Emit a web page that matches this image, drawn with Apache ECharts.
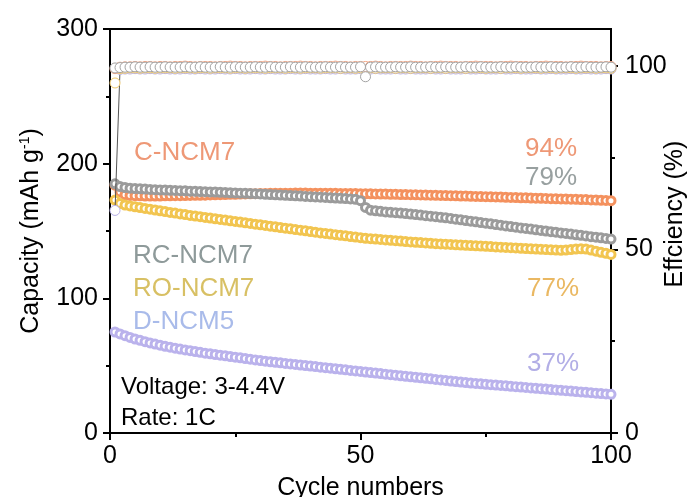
<!DOCTYPE html>
<html>
<head>
<meta charset="utf-8">
<script src="https://cdn.jsdelivr.net/npm/echarts@6/dist/echarts.min.js"></script>
<style>
html,body{margin:0;padding:0;background:#fff;}
#chart{width:692px;height:497px;}
</style>
</head>
<body>
<div id="chart"></div>
<script>
// Capacity (mAh g-1) per cycle 1..100
var capC_NCM7 = [184,179,177,176.4,176.2,176.1,176,176,176,176,
176.1,176.1,176.2,176.2,176.3,176.4,176.5,176.5,176.6,176.8,
176.9,177,177.1,177.2,177.3,177.4,177.5,177.6,177.7,177.8,
177.9,178,178,178.1,178.1,178.1,178.2,178.2,178.2,178.1,
178.1,178.1,178,178,178,177.9,177.9,177.8,177.8,177.7,
177.6,177.6,177.5,177.4,177.4,177.3,177.2,177.1,177.1,177,
176.9,176.8,176.7,176.6,176.5,176.4,176.3,176.2,176.1,176,
175.9,175.8,175.7,175.6,175.5,175.4,175.3,175.2,175,174.9,
174.8,174.7,174.6,174.5,174.4,174.3,174.2,174,173.9,173.8,
173.7,173.6,173.5,173.4,173.3,173.1,173,172.8,172.7,172.5];

var capRC_NCM7 = [185,183,182.3,181.8,181.5,181.3,181.1,180.9,180.7,180.5,
180.4,180.2,180.1,179.9,179.8,179.6,179.5,179.3,179.2,179,
178.9,178.7,178.6,178.4,178.3,178.1,178,177.8,177.7,177.5,
177.3,177.1,176.9,176.7,176.5,176.3,176.1,175.9,175.7,175.5,
175.3,175.1,174.9,174.7,174.5,174.3,174.1,173.8,173.5,172.5,
167.5,165.5,165,164.6,164.2,163.9,163.6,163.3,163,162.6,
162.2,161.8,161.4,161,160.6,160.2,159.8,159.3,158.8,158.3,
157.8,157.3,156.8,156.3,155.8,155.3,154.8,154.3,153.8,153.3,
152.8,152.3,151.9,151.4,150.9,150.4,150,149.5,149.1,148.6,
148.2,147.7,147.2,146.8,146.3,145.8,145.4,144.9,144.5,144];

var capRO_NCM7 = [173,170.5,169.3,168.6,168,167.4,166.8,166.2,165.6,165,
164.4,163.8,163.3,162.7,162.2,161.6,161.1,160.6,160.1,159.6,
159.1,158.6,158.1,157.6,157.1,156.6,156.1,155.6,155.1,154.6,
154.1,153.6,153.1,152.6,152.1,151.6,151.1,150.6,150.1,149.6,
149.1,148.6,148.2,147.7,147.3,146.8,146.4,145.9,145.5,145,
144.6,144.3,144,143.7,143.4,143.1,142.8,142.5,142.2,141.9,
141.6,141.4,141.1,140.9,140.6,140.4,140.2,140,139.8,139.6,
139.4,139.2,139,138.8,138.6,138.4,138.2,138,137.8,137.6,
137.4,137.2,137,136.8,136.6,136.4,136.2,136,135.8,135.7,
135.8,136.2,136.6,136.8,136.6,135.8,135,134.2,133.4,132.6];

var capD_NCM5 = [75,73.6,72.3,71,69.8,68.8,67.8,66.9,66,65.2,
64.4,63.7,63,62.3,61.7,61.1,60.5,59.9,59.3,58.8,
58.3,57.8,57.3,56.8,56.3,55.8,55.3,54.8,54.3,53.8,
53.3,52.9,52.5,52.1,51.7,51.3,50.9,50.5,50.1,49.7,
49.3,48.9,48.5,48.1,47.7,47.3,46.9,46.5,46.1,45.7,
45.3,44.9,44.5,44.1,43.7,43.3,42.9,42.5,42.1,41.7,
41.4,41,40.6,40.2,39.8,39.4,39,38.6,38.2,37.8,
37.5,37.1,36.8,36.5,36.2,35.9,35.6,35.3,35,34.7,
34.4,34.1,33.8,33.5,33.2,32.9,32.6,32.3,32,31.7,
31.4,31.1,30.8,30.5,30.2,29.9,29.6,29.3,29,28.7];

// Coulombic efficiency (%) per cycle 1..100
var effC_NCM7 = [99.2,99.6,99.7,99.7,99.8,99.7,99.8,99.8,99.7,99.8,
99.8,99.7,99.8,99.8,99.9,99.8,99.7,99.8,99.8,99.8,
99.7,99.8,99.8,99.9,99.8,99.8,99.7,99.8,99.8,99.8,
99.9,99.8,99.8,99.7,99.8,99.8,99.8,99.9,99.8,99.8,
99.7,99.8,99.8,99.8,99.9,99.8,99.8,99.7,99.8,99.8,
99.8,99.8,99.9,99.8,99.7,99.8,99.8,99.8,99.8,99.9,
99.8,99.8,99.7,99.8,99.8,99.9,99.8,99.8,99.8,99.7,
99.8,99.8,99.9,99.8,99.8,99.8,99.7,99.8,99.8,99.9,
99.8,99.8,99.8,99.7,99.8,99.8,99.9,99.8,99.8,99.8,
99.7,99.8,99.8,99.9,99.8,99.8,99.8,99.7,99.8,99.8];

var effRC_NCM7 = [99.4,99.5,99.6,99.6,99.7,99.6,99.6,99.7,99.6,99.6,
99.7,99.6,99.6,99.6,99.7,99.6,99.6,99.7,99.6,99.6,
99.6,99.7,99.6,99.6,99.7,99.6,99.6,99.6,99.7,99.6,
99.6,99.7,99.6,99.6,99.6,99.7,99.6,99.6,99.7,99.6,
99.6,99.6,99.7,99.6,99.6,99.7,99.6,99.6,99.6,99.7,
97.0,99.6,99.7,99.6,99.6,99.6,99.7,99.6,99.6,99.7,
99.6,99.6,99.6,99.7,99.6,99.6,99.7,99.6,99.6,99.6,
99.7,99.6,99.6,99.7,99.6,99.6,99.6,99.7,99.6,99.6,
99.7,99.6,99.6,99.6,99.7,99.6,99.6,99.7,99.6,99.6,
99.6,99.7,99.6,99.6,99.7,99.6,99.6,99.6,99.7,99.6];

var effRO_NCM7 = [95.3,99.2,99.3,99.4,99.4,99.3,99.4,99.4,99.3,99.4,
99.4,99.4,99.3,99.4,99.4,99.4,99.3,99.4,99.4,99.3,
99.4,99.4,99.4,99.3,99.4,99.4,99.3,99.4,99.4,99.4,
99.3,99.4,99.4,99.4,99.3,99.4,99.4,99.3,99.4,99.4,
99.4,99.3,99.4,99.4,99.4,99.3,99.4,99.4,99.3,99.4,
99.4,99.4,99.3,99.4,99.4,99.4,99.3,99.4,99.4,99.3,
99.4,99.4,99.4,99.3,99.4,99.4,99.3,99.4,99.4,99.4,
99.3,99.4,99.4,99.4,99.3,99.4,99.4,99.3,99.4,99.4,
99.4,99.3,99.4,99.4,99.4,99.3,99.4,99.4,99.3,99.4,
99.4,99.4,99.3,99.4,99.4,99.4,99.3,99.4,99.4,99.3];

var effD_NCM5 = [60.6,99.0,99.1,99.1,99.2,99.1,99.1,99.2,99.1,99.1,
99.2,99.1,99.1,99.1,99.2,99.1,99.1,99.2,99.1,99.1,
99.1,99.2,99.1,99.1,99.2,99.1,99.1,99.1,99.2,99.1,
99.1,99.2,99.1,99.1,99.1,99.2,99.1,99.1,99.2,99.1,
99.1,99.1,99.2,99.1,99.1,99.2,99.1,99.1,99.1,99.2,
99.1,99.1,99.2,99.1,99.1,99.1,99.2,99.1,99.1,99.2,
99.1,99.1,99.1,99.2,99.1,99.1,99.2,99.1,99.1,99.1,
99.2,99.1,99.1,99.2,99.1,99.1,99.1,99.2,99.1,99.1,
99.2,99.1,99.1,99.1,99.2,99.1,99.1,99.2,99.1,99.1,
99.1,99.2,99.1,99.1,99.2,99.1,99.1,99.1,99.2,99.1];

var seriesNames = ['C-NCM7','RC-NCM7','RO-NCM7','D-NCM5'];
var retentionLabels = ['94%','79%','77%','37%'];
var xTickLabels = [0,50,100];
var leftTickLabels = [0,100,200,300];
var rightTickLabels = [0,50,100];

var FONT = '"Liberation Sans", Arial, sans-serif';

function pairs(arr){
  var out = [];
  for (var i = 0; i < arr.length; i++) out.push([i + 1, arr[i]]);
  return out;
}

function capSeries(name, arr, color, z){
  return {
    name: name, type: 'line', xAxisIndex: 0, yAxisIndex: 0,
    data: pairs(arr), z: z,
    symbol: 'circle', symbolSize: 8,
    itemStyle: {color: '#ffffff', borderColor: color, borderWidth: 3},
    lineStyle: {color: color, width: 1},
    emphasis: {disabled: true}, animation: false
  };
}
function effSeries(name, arr, color, z, lineColor, lineWidth){
  return {
    name: name + ' CE', type: 'line', xAxisIndex: 0, yAxisIndex: 1,
    data: pairs(arr), z: z,
    symbol: 'circle', symbolSize: 10,
    itemStyle: {color: '#ffffff', borderColor: color, borderWidth: 1},
    lineStyle: {color: lineColor, width: lineWidth},
    emphasis: {disabled: true}, animation: false
  };
}

var chart = echarts.init(document.getElementById('chart'), null, {renderer: 'canvas'});

function txt(s, x, y, color, size){
  return {type: 'text', z: 100, style: {text: s, x: x, y: y, fill: color,
    font: (size || 26) + 'px ' + FONT, verticalAlign: 'middle', textVerticalAlign: 'middle'}};
}

chart.setOption({
  animation: false,
  backgroundColor: '#ffffff',
  grid: {left: 110, right: 81, top: 29, bottom: 64, containLabel: false, outerBoundsMode: 'none',
    show: true, borderColor: '#000', borderWidth: 2, backgroundColor: 'transparent'},
  xAxis: {
    type: 'value', min: 0, max: 100, interval: 50,
    name: 'Cycle numbers', nameLocation: 'middle', nameGap: 43,
    nameTextStyle: {fontFamily: FONT, fontSize: 25, color: '#000'},
    axisLine: {show: true, lineStyle: {color: '#000', width: 2}},
    axisTick: {show: true, length: 7, lineStyle: {color: '#000', width: 2}},
    minorTick: {show: true, splitNumber: 2, length: 4, lineStyle: {color: '#000', width: 2}},
    axisLabel: {fontFamily: FONT, fontSize: 25, color: '#000', margin: 11,
      formatter: function(v){ return xTickLabels.indexOf(v) >= 0 ? String(v) : ''; }},
    splitLine: {show: false}, minorSplitLine: {show: false}
  },
  yAxis: [
    {
      type: 'value', min: 0, max: 300, interval: 100, position: 'left',
      name: 'Capacity (mAh g{sup|-1})', nameLocation: 'middle', nameGap: 66, nameRotate: 90,
      nameTextStyle: {fontFamily: FONT, fontSize: 25, color: '#000',
        rich: {sup: {fontFamily: FONT, fontSize: 14, color: '#000', verticalAlign: 'top', padding: [0,0,12,0]}}},
      axisLine: {show: true, lineStyle: {color: '#000', width: 2}},
      axisTick: {show: true, length: 7, lineStyle: {color: '#000', width: 2}},
      minorTick: {show: true, splitNumber: 2, length: 4, lineStyle: {color: '#000', width: 2}},
      axisLabel: {fontFamily: FONT, fontSize: 25, color: '#000', margin: 12,
        formatter: function(v){ return leftTickLabels.indexOf(v) >= 0 ? String(v) : ''; }},
      splitLine: {show: false}, minorSplitLine: {show: false}
    },
    {
      type: 'value', min: 0, max: 110, interval: 50, position: 'right',
      name: 'Effciency (%)', nameLocation: 'middle', nameGap: 52, nameRotate: 90,
      nameMoveOverlap: false,
      nameTextStyle: {fontFamily: FONT, fontSize: 25, color: '#000', padding: [0,0,0,34]},
      axisLine: {show: true, lineStyle: {color: '#000', width: 2}},
      axisTick: {show: true, length: 7, customValues: [0,50,100], lineStyle: {color: '#000', width: 2}},
      axisLabel: {fontFamily: FONT, fontSize: 25, color: '#000', margin: 14, customValues: rightTickLabels,
        formatter: function(v){ return rightTickLabels.indexOf(v) >= 0 ? String(v) : ''; }},
      splitLine: {show: false}
    },
    {
      type: 'value', min: 0, max: 110, interval: 50, position: 'right',
      axisLine: {show: false},
      axisTick: {show: true, length: 4, customValues: [25,75], lineStyle: {color: '#000', width: 2}},
      axisLabel: {show: false},
      splitLine: {show: false}
    }
  ],
  series: [
    capSeries(seriesNames[0], capC_NCM7, '#F4915E', 2),
    capSeries(seriesNames[2], capRO_NCM7, '#F2C550', 2),
    capSeries(seriesNames[3], capD_NCM5, '#BAB2EC', 2),
    capSeries(seriesNames[1], capRC_NCM7, '#9B9B9B', 3),
    effSeries(seriesNames[3], effD_NCM5, '#B8B0E8', 4, '#555555', 1),
    effSeries(seriesNames[2], effRO_NCM7, '#EFC86A', 4, '#EFC86A', 0),
    effSeries(seriesNames[0], effC_NCM7, '#F3A27F', 4, '#F3A27F', 0),
    effSeries(seriesNames[1], effRC_NCM7, '#A3A3A3', 4, '#A3A3A3', 0)
  ],
  graphic: [
    txt(seriesNames[0], 134, 153, '#EE9876'),
    txt(seriesNames[1], 133, 256, '#8E9A9A'),
    txt(seriesNames[2], 133, 289, '#D8C064'),
    txt(seriesNames[3], 133, 322, '#A9BBEA'),
    txt(retentionLabels[0], 525, 149, '#EE9876'),
    txt(retentionLabels[1], 525, 178, '#98A0A0'),
    txt(retentionLabels[2], 527, 289, '#EAB862'),
    txt(retentionLabels[3], 527, 364, '#B2AEE6'),
    txt('Voltage: 3-4.4V', 121, 387, '#000', 24),
    txt('Rate: 1C', 121, 418, '#000', 24)
  ]
});
</script>
</body>
</html>
